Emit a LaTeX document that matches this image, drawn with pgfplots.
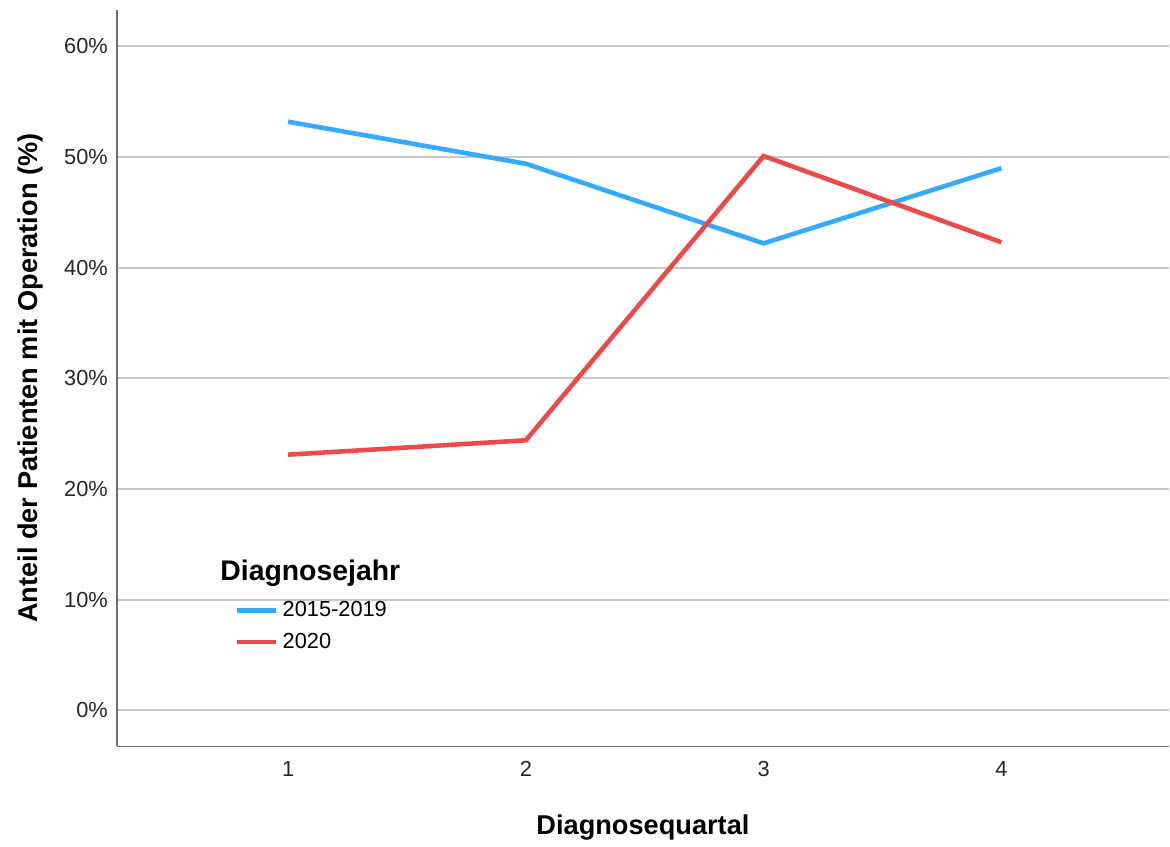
\documentclass[border=0pt]{standalone}
\usepackage{fontspec}
\setmainfont{Liberation Sans}
\usepackage{pgfplots}
\pgfplotsset{compat=1.18}
\definecolor{serblue}{RGB}{52,170,255}
\definecolor{serred}{RGB}{236,74,74}
\definecolor{gridgray}{RGB}{200,200,200}
\definecolor{axgray}{RGB}{110,110,110}
\begin{document}
\begin{tikzpicture}
\begin{axis}[
  at={(0,0)}, anchor=south west,
  scale only axis,
  width=526.5pt, height=368.5pt,
  xmin=0.28, xmax=4.705,
  ymin=-3.27, ymax=63.3,
  axis x line*=bottom, axis y line*=left,
  axis line style={axgray, line width=0.8pt, -},
  xtick={1,2,3,4},
  ytick={0,10,20,30,40,50,60},
  yticklabel={\pgfmathprintnumber{\tick}\%},
  /pgf/number format/assume math mode=true,
  major tick length=0pt,
  ymajorgrids,
  grid style={gridgray, line width=1pt},
  tick label style={font=\fontsize{10.9}{12}\selectfont, text=black!85},
  yticklabel style={xshift=-1pt},
  xticklabel style={yshift=-4pt},
  xlabel={\textbf{Diagnosequartal}},
  ylabel={\textbf{Anteil der Patienten mit Operation (\%)}},
  label style={font=\fontsize{13.6}{15}\selectfont},
  xlabel style={at={(axis description cs:0.5,0)}, anchor=center, yshift=-40.5pt},
  ylabel style={at={(axis description cs:0,0.5)}, anchor=center, yshift=43.5pt},
  legend style={at={(rel axis cs:0.112,0.2025)}, anchor=north west, draw=none, fill=none,
    font=\fontsize{10.9}{12}\selectfont, row sep=2.5pt,
    inner sep=0pt, cells={anchor=west}},
  legend image code/.code={\draw[#1, line cap=butt] (0pt,0pt) -- (19.5pt,0pt);},
  line cap=butt, line join=miter,
]
\addplot[serblue, line width=2.3pt] coordinates {(1,53.2) (2,49.4) (3,42.2) (4,49.0)};
\addlegendentry{2015-2019}
\addplot[serred, line width=2.3pt] coordinates {(1,23.1) (2,24.4) (3,50.1) (4,42.3)};
\addlegendentry{2020}
\node[anchor=west, font=\bfseries\fontsize{14.2}{15}\selectfont, inner sep=0pt] at (rel axis cs:0.098,0.235) {Diagnosejahr};
\end{axis}
\useasboundingbox (-58.5pt,-48pt) rectangle (526.5pt,373.5pt);
\end{tikzpicture}
\end{document}
